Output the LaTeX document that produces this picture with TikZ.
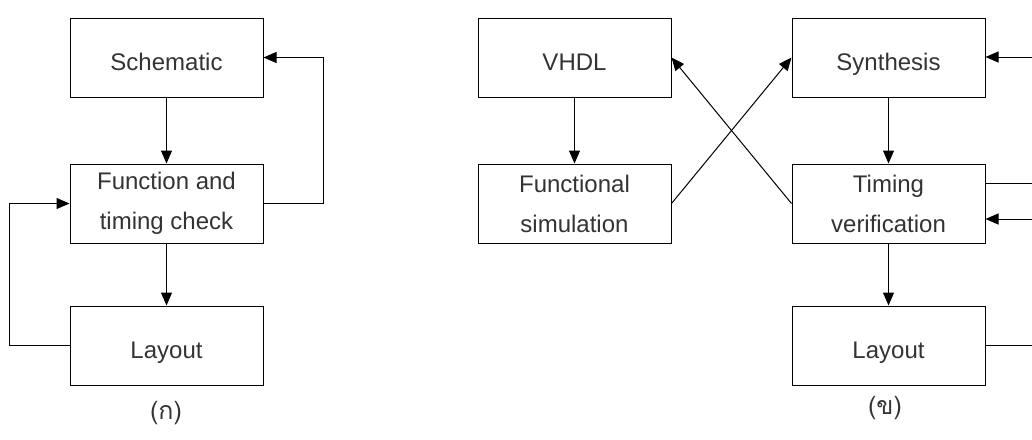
\documentclass[tikz,border=0pt]{standalone}
\usepackage{fontspec}
\setmainfont{Liberation Sans}
\newfontfamily\thaifont[Script=Thai]{Loma}
\usetikzlibrary{arrows.meta, positioning}

\begin{document}
\begin{tikzpicture}[
    x=1pt, y=-1pt,
    line width=1pt,
    node distance=66pt,
    box/.style={rectangle, draw, minimum width=193pt, minimum height=79pt, align=center, text=black!80, font=\fontsize{24}{40}\selectfont},
    onebox/.style={box, text height=25pt, text depth=0pt},
    arr/.style={-{Triangle[length=13pt, width=11pt]}},
    caption/.style={text=black!80, font=\thaifont\fontsize{25}{30}\selectfont}
]
\useasboundingbox (0,0) rectangle (1032,439);

% left flow
\node[onebox] (schem) at (166.5,57.5) {Schematic};
\node[box, below=of schem] (func) {Function and\\timing check};
\node[onebox, below=62pt of func] (lay1) {Layout};
\node[caption] (capa) at (166,413) {(ก)};

% right flow
\node[onebox] (vhdl) at (574.5,57.5) {VHDL};
\node[onebox, right=120pt of vhdl] (synth) {Synthesis};
\node[box, below=of vhdl] (funcsim) {Functional\\simulation};
\node[box, below=of synth] (timing) {Timing\\verification};
\node[onebox, below=62pt of timing] (lay2) {Layout};
\node[caption] (capb) at (885,408) {(ข)};

% free ends at the right border
\coordinate (synthin) at (1032,57);
\coordinate (timeout) at (1032,183);
\coordinate (timein) at (1032,219);
\coordinate (layout) at (1032,345);

\draw[arr] (schem) -- (func);
\draw[arr] (func) -- (lay1);
\draw[arr] (func.east) -- ++(60,0) |- (schem.east);
\draw[arr] (lay1.west) -- ++(-60,0) |- (func.west);

\draw[arr] (vhdl) -- (funcsim);
\draw[arr] (synth) -- (timing);
\draw[arr] (timing) -- (lay2);
\draw[arr] (funcsim.east) -- (synth.west);
\draw[arr] (timing.west) -- (vhdl.east);
\draw[arr] (synthin) -- (synth.east |- synthin);
\draw (timing.east |- timeout) -- (timeout);
\draw[arr] (timein) -- (timing.east |- timein);
\draw (lay2.east |- layout) -- (layout);
\end{tikzpicture}
\end{document}
